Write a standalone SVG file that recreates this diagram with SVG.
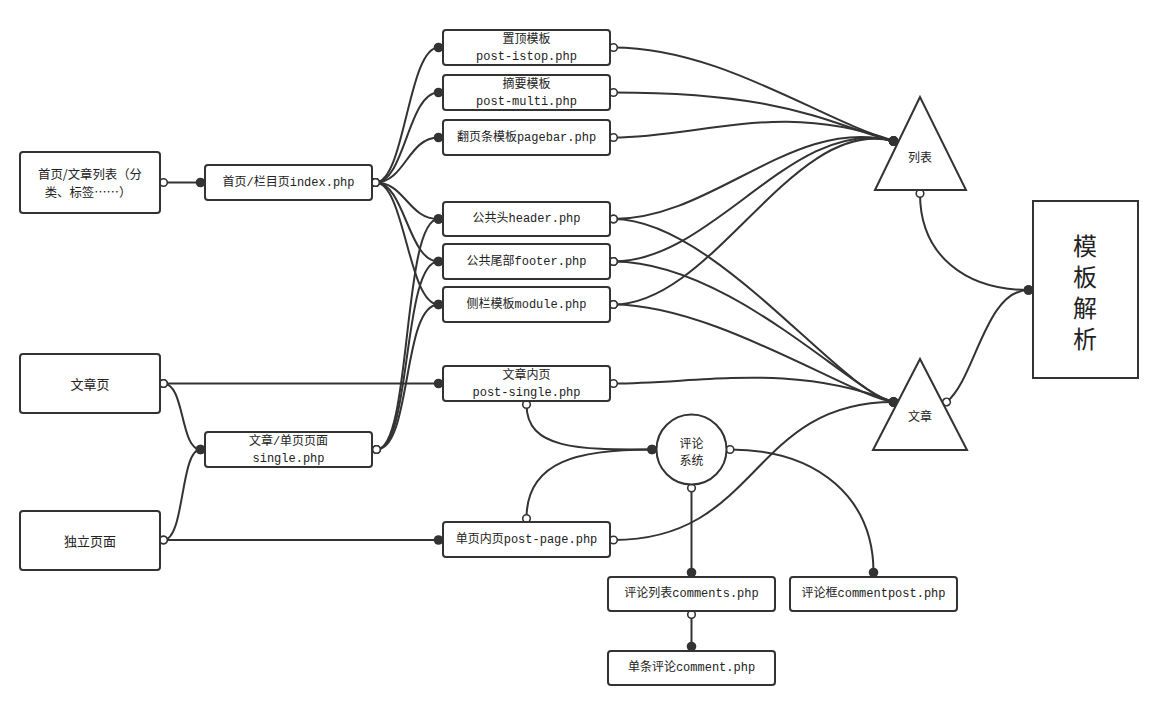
<svg xmlns="http://www.w3.org/2000/svg" width="1158" height="705" viewBox="0 0 1158 705">
<style>
.box{fill:#fff;stroke:#333;stroke-width:2}
.shape{fill:#fff;stroke:#333;stroke-width:2}
.t{font-family:"Liberation Mono","Noto Sans CJK SC",monospace;font-size:12px;fill:#222;text-anchor:middle;dominant-baseline:central}
.s{font-family:"Noto Sans CJK SC","Noto Sans",sans-serif;font-size:13px;fill:#222;text-anchor:middle;dominant-baseline:central}
.c{fill:none;stroke:#333;stroke-width:2;marker-start:url(#mo);marker-end:url(#mf)}
</style>
<defs>
<marker id="mo" markerUnits="userSpaceOnUse" markerWidth="12" markerHeight="12" refX="6" refY="6" orient="auto"><circle cx="6" cy="6" r="3.8" fill="#fff" stroke="#333" stroke-width="1.6"/></marker>
<marker id="mf" markerUnits="userSpaceOnUse" markerWidth="12" markerHeight="12" refX="6" refY="6" orient="auto"><circle cx="6" cy="6" r="4.8" fill="#333"/></marker>
</defs>
<rect width="1158" height="705" fill="#fff"/>
<g id="connectors">
<path class="c" d="M163.5,182.5 L200.5,182.5"/>
<path class="c" d="M375.5,182.5 C405,182.5 408,47.5 438.5,47.5"/>
<path class="c" d="M375.5,182.5 C405,182.5 408,92.5 438.5,92.5"/>
<path class="c" d="M375.5,182.5 C405,182.5 408,137.5 438.5,137.5"/>
<path class="c" d="M375.5,182.5 C405,182.5 408,219 438.5,219"/>
<path class="c" d="M375.5,182.5 C405,182.5 408,261.5 438.5,261.5"/>
<path class="c" d="M375.5,182.5 C405,182.5 408,304.5 438.5,304.5"/>
<path class="c" d="M376.5,449.5 C412,449.5 402,219 438.5,219"/>
<path class="c" d="M376.5,449.5 C412,449.5 402,261.5 438.5,261.5"/>
<path class="c" d="M376.5,449.5 C412,449.5 402,304.5 438.5,304.5"/>
<path class="c" d="M163.5,383.5 L438.5,383.5"/>
<path class="c" d="M163.5,383.5 C185,383.5 180,449.5 200.5,449.5"/>
<path class="c" d="M163.5,540 L438.5,540"/>
<path class="c" d="M163.5,540 C185,540 180,449.5 200.5,449.5"/>
<path class="c" d="M613.5,47.5 C720,47.5 820,120 893.5,141"/>
<path class="c" d="M613.5,92.5 C790,92.5 830,125 893.5,141"/>
<path class="c" d="M613.5,137.5 C700,137.5 780,100 893.5,141"/>
<path class="c" d="M613.5,219 C714,219 793,115 893.5,141"/>
<path class="c" d="M613.5,261.5 C714,261.5 793,115 893.5,141"/>
<path class="c" d="M613.5,304.5 C714,304.5 793,115 893.5,141"/>
<path class="c" d="M613.5,219 C714,219 840,392 893.5,402"/>
<path class="c" d="M613.5,261.5 C730,261.5 855,395 893.5,402"/>
<path class="c" d="M613.5,304.5 C714,304.5 850,396 893.5,402"/>
<path class="c" d="M613.5,383.5 C700,383.5 790,362 893.5,402"/>
<path class="c" d="M613.5,540 C760,540 750,402 893.5,402"/>
<path class="c" d="M526.5,404.5 C526.5,450 580,449.5 652,449.5"/>
<path class="c" d="M526.5,518.5 C526.5,460 580,449.5 652,449.5"/>
<path class="c" d="M691.5,488 L691.5,572.5"/>
<path class="c" d="M730,449.5 C820,449.5 873.5,500 873.5,572.5"/>
<path class="c" d="M691.5,614.5 L691.5,646.5"/>
<path class="c" d="M920,193.5 C920,255 965,290 1028.5,290"/>
<path class="c" d="M946.5,402 C975,380 985,290 1028.5,290"/>
</g>
<g id="n_home"><rect class="box" x="20" y="152" width="140" height="61" rx="3"/><text class="s" style="font-size:12.4px"><tspan x="90" y="174.3">首页/文章列表（分</tspan><tspan x="88" y="191.7">类、标签……）</tspan></text></g>
<g id="n_index"><rect class="box" x="205" y="165" width="167" height="35" rx="3"/><text class="t" x="288.5" y="182.5">首页/栏目页index.php</text></g>
<g id="n_istop"><rect class="box" x="443" y="30" width="167" height="35" rx="3"/><text class="t" x="526.5" y="40">置顶模板</text><text class="t" x="526.5" y="57">post-istop.php</text></g>
<g id="n_multi"><rect class="box" x="443" y="75" width="167" height="35" rx="3"/><text class="t" x="526.5" y="85">摘要模板</text><text class="t" x="526.5" y="102">post-multi.php</text></g>
<g id="n_pagebar"><rect class="box" x="443" y="120" width="167" height="35" rx="3"/><text class="t" x="526.5" y="137.5">翻页条模板pagebar.php</text></g>
<g id="n_header"><rect class="box" x="443" y="202" width="167" height="34" rx="3"/><text class="t" x="526.5" y="219">公共头header.php</text></g>
<g id="n_footer"><rect class="box" x="443" y="244" width="167" height="35" rx="3"/><text class="t" x="526.5" y="261.5">公共尾部footer.php</text></g>
<g id="n_module"><rect class="box" x="443" y="287" width="167" height="35" rx="3"/><text class="t" x="526.5" y="304.5">侧栏模板module.php</text></g>
<g id="n_post"><rect class="box" x="20" y="354" width="140" height="59" rx="3"/><text class="s" x="90" y="383.5">文章页</text></g>
<g id="n_postsingle"><rect class="box" x="443" y="366" width="167" height="35" rx="3"/><text class="t" x="526.5" y="375.5">文章内页</text><text class="t" x="526.5" y="392.5">post-single.php</text></g>
<g id="n_single"><rect class="box" x="205" y="432" width="167" height="35" rx="3"/><text class="t" x="288.5" y="441.5">文章/单页页面</text><text class="t" x="288.5" y="458.5">single.php</text></g>
<g id="n_page"><rect class="box" x="20" y="511" width="140" height="59" rx="3"/><text class="s" x="90" y="540">独立页面</text></g>
<g id="n_postpage"><rect class="box" x="443" y="522" width="167" height="35" rx="3"/><text class="t" x="526.5" y="540">单页内页post-page.php</text></g>
<g id="n_commentsys"><circle class="shape" cx="691.5" cy="449.5" r="35"/><text class="s" style="font-size:12px"><tspan x="691.5" y="441.5">评论</tspan><tspan x="691.5" y="458.5">系统</tspan></text></g>
<g id="n_comments"><rect class="box" x="608" y="577" width="167" height="34" rx="3"/><text class="t" x="691.5" y="594">评论列表comments.php</text></g>
<g id="n_commentpost"><rect class="box" x="790" y="577" width="167" height="34" rx="3"/><text class="t" x="873.5" y="594">评论框commentpost.php</text></g>
<g id="n_comment"><rect class="box" x="608" y="651" width="167" height="34" rx="3"/><text class="t" x="691.5" y="668">单条评论comment.php</text></g>
<g id="n_list"><polygon class="shape" points="920,97 875,190 966,190"/><text class="s" x="920" y="156" style="font-size:12px">列表</text></g>
<g id="n_article"><polygon class="shape" points="920,359 873,450 967,450"/><text class="s" x="920" y="415" style="font-size:12px">文章</text></g>
<g id="n_parse"><rect class="shape" x="1033" y="201" width="105" height="177"/><text class="s" x="1085" y="295.5" style="font-size:24px;writing-mode:vertical-rl;letter-spacing:7px">模板解析</text></g>
</svg>
